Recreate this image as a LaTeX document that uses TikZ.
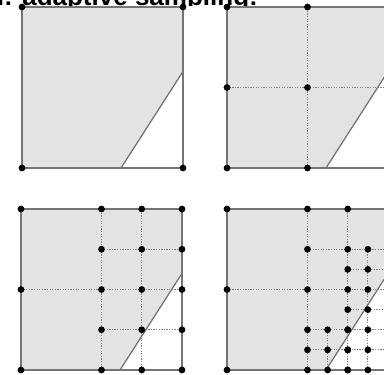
\documentclass[tikz,border=0pt]{standalone}
\usepackage{fontspec}
\setmainfont{Liberation Sans}
\definecolor{regiongray}{HTML}{E3E3E3}
\definecolor{outlinegray}{HTML}{757575}
\definecolor{gridgray}{HTML}{808080}
\definecolor{cutgray}{HTML}{6E6E6E}
\tikzset{
  outline/.style={draw=outlinegray, line width=1.4pt},
  gridline/.style={draw=gridgray, line width=1pt, dash pattern=on 1.3pt off 1.3pt},
  cutline/.style={draw=cutgray, line width=1.2pt},
  sample/.style={fill=black},
  titletext/.style={anchor=base east, inner sep=0pt, font=\fontsize{26}{28}\selectfont\bfseries},
}
\newcommand\panelbase{%
  \fill[regiongray] (0,0) -- (0.615,0) -- (1,0.6) -- (1,1) -- (0,1) -- cycle;
}
\newcommand\panelfront{%
  \draw[cutline] (0.615,0) -- (1,0.6);
  \draw[outline] (0,0) rectangle (1,1);
}
\begin{document}
\begin{tikzpicture}[x=1pt, y=-1pt]
\useasboundingbox (0,0) rectangle (384,375);
\begin{scope}
  \clip (0,-40) rectangle (384,5.5);
  \node[titletext] (title) at (258,5) {n: adaptive sampling:};
\end{scope}

% panel 1
\begin{scope}[shift={(22,168)}, x=161pt, y=161pt]
  \panelbase
  \panelfront
  \foreach \p in {(0,0),(1,0),(0,1),(1,1)} \fill[sample] \p circle (3.4pt);
\end{scope}

% panel 2
\begin{scope}[shift={(227,168)}, x=161pt, y=161pt]
  \panelbase
  \draw[gridline] (0.5,0) -- (0.5,1);
  \draw[gridline] (0,0.5) -- (1,0.5);
  \panelfront
  \foreach \p in {(0,0),(0.5,0),(1,0),(0,0.5),(0.5,0.5),(1,0.5),(0,1),(0.5,1),(1,1)}
    \fill[sample] \p circle (3.4pt);
\end{scope}

% panel 3
\begin{scope}[shift={(21,370)}, x=161pt, y=161pt]
  \panelbase
  \draw[gridline] (0.5,0) -- (0.5,1);
  \draw[gridline] (0,0.5) -- (1,0.5);
  \draw[gridline] (0.75,0) -- (0.75,1);
  \draw[gridline] (0.5,0.25) -- (1,0.25);
  \draw[gridline] (0.5,0.75) -- (1,0.75);
  \panelfront
  \foreach \p in {(0,0),(0,0.5),(0,1)} \fill[sample] \p circle (3.4pt);
  \foreach \x in {0.5,0.75,1}
    \foreach \y in {0,0.25,0.5,0.75,1}
      \fill[sample] (\x,\y) circle (3.4pt);
\end{scope}

% panel 4
\begin{scope}[shift={(227,370)}, x=161pt, y=161pt]
  \panelbase
  \draw[gridline] (0.5,0) -- (0.5,1);
  \draw[gridline] (0,0.5) -- (1,0.5);
  \draw[gridline] (0.75,0) -- (0.75,1);
  \draw[gridline] (0.5,0.25) -- (1,0.25);
  \draw[gridline] (0.5,0.75) -- (1,0.75);
  \draw[gridline] (0.625,0) -- (0.625,0.25);
  \draw[gridline] (0.5,0.125) -- (1,0.125);
  \draw[gridline] (0.875,0) -- (0.875,0.75);
  \draw[gridline] (0.75,0.375) -- (1,0.375);
  \draw[gridline] (0.75,0.625) -- (1,0.625);
  \panelfront
  \foreach \p in {(0,0),(0,0.5),(0,1),(0.5,0.75),(0.5,1),(0.75,1),(1,1),(0.5,0.5)}
    \fill[sample] \p circle (3.4pt);
  \foreach \x in {0.5,0.625,0.75} \foreach \y in {0,0.125,0.25}
    \fill[sample] (\x,\y) circle (3.4pt);
  \foreach \x in {0.75,0.875,1} \foreach \y in {0,0.125,0.25,0.375,0.5,0.625,0.75}
    \fill[sample] (\x,\y) circle (3.4pt);
\end{scope}
\end{tikzpicture}
\end{document}
